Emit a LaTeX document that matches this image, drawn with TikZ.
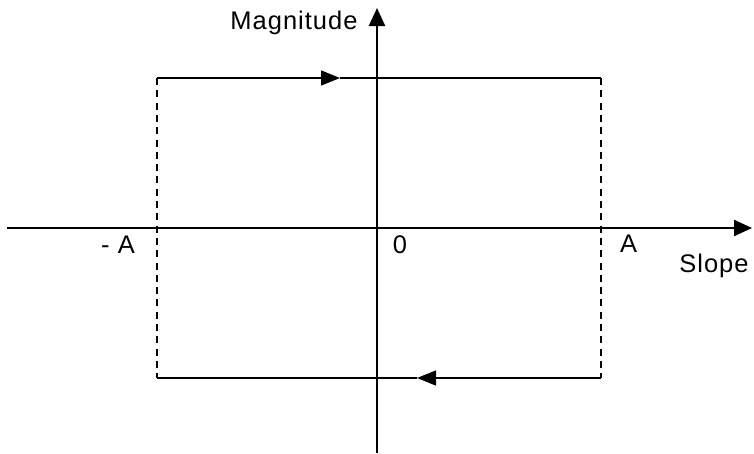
\documentclass[tikz,border=0pt]{standalone}
\usepackage{fontspec}
\setmainfont{Liberation Sans}[LetterSpace=4]
\usetikzlibrary{arrows.meta}

\begin{document}
\begin{tikzpicture}[x=1cm, y=1cm, font=\fontsize{14.5}{17}\selectfont,
	axis/.style={line width=1.3pt, -{Triangle[length=3.6mm, width=3.2mm]}},
	loop/.style={line width=0.8pt},
	side/.style={line width=1.1pt, dash pattern=on 4pt off 3pt},
	flow/.style={loop, -{Triangle[length=3.8mm, width=3mm]}}]
	\useasboundingbox (-7.54,-4.5) rectangle (7.54,4.56);
	\coordinate (tl) at (-4.4,3);
	\coordinate (tr) at (4.48,3);
	\coordinate (bl) at (-4.4,-3);
	\coordinate (br) at (4.48,-3);
	\coordinate (topmid) at (-0.74,3);
	\coordinate (botmid) at (0.8,-3);
	\coordinate (xstart) at (-7.4,0);
	\coordinate (xend) at (7.5,0);
	\coordinate (ystart) at (0,-4.5);
	\coordinate (yend) at (0,4.4);
	\draw[axis] (xstart) -- (xend);
	\draw[axis] (ystart) -- (yend);
	\draw[flow] (tl) -- (topmid);
	\draw[loop] (topmid) -- (tr);
	\draw[flow] (br) -- (botmid);
	\draw[loop] (botmid) -- (bl);
	\draw[side] (tl) -- (bl);
	\draw[side] (tr) -- (br);
	\node[anchor=base] (mag) at (-1.66,3.96) {Magnitude};
	\node[anchor=base] (slope) at (6.74,-0.88) {Slope};
	\node[anchor=base] (negA) at (-5.18,-0.5) {- A};
	\node[anchor=base] (zero) at (0.46,-0.5) {0};
	\node[anchor=base] (posA) at (5.03,-0.48) {A};
\end{tikzpicture}
\end{document}
